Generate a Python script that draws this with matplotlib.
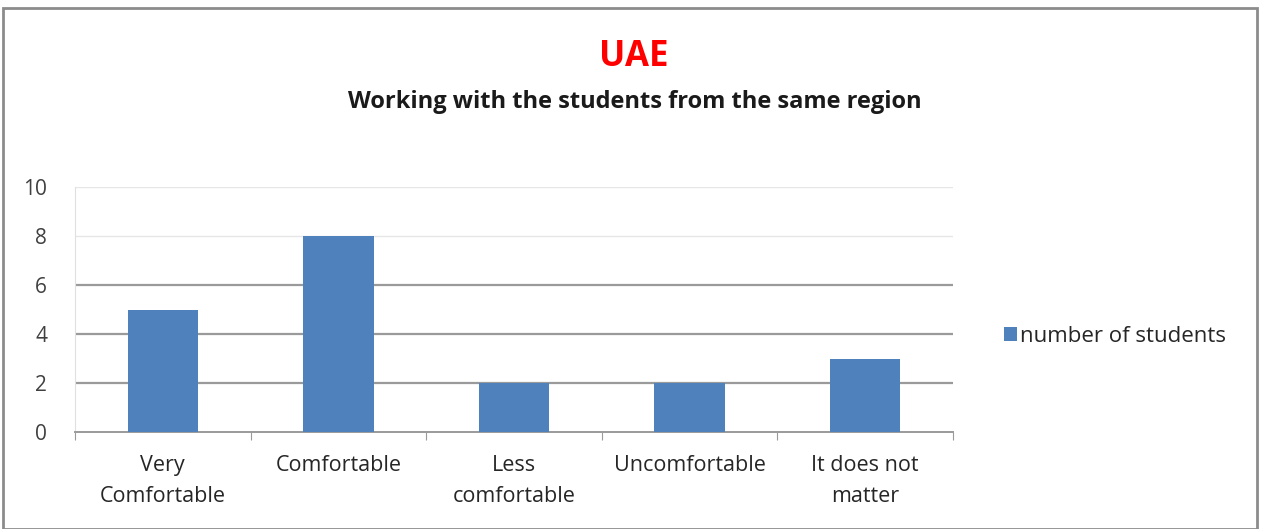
import matplotlib.pyplot as plt
from matplotlib.patches import Rectangle

categories = ["Very\nComfortable", "Comfortable", "Less\ncomfortable", "Uncomfortable", "It does not\nmatter"]
students = [5, 8, 2, 2, 3]
yticks = [0, 2, 4, 6, 8, 10]

plt.rcParams['font.family'] = ['Open Sans', 'DejaVu Sans']

fig = plt.figure(figsize=(12.61, 5.29), dpi=100)
ax = fig.add_axes([75/1261, 1-432/529, (953-75)/1261, (432-187)/529])

# outer chart frame
fig.patches.append(Rectangle((3/1261, 0), 1254/1261, 1-8/529, transform=fig.transFigure,
                             fill=False, edgecolor='#8c8c8c', linewidth=2))

x = list(range(len(categories)))
ax.bar(x, students, width=0.4, color='#4F81BD', label='number of students', zorder=3)

ax.set_xlim(-0.5, len(categories) - 0.5)
ax.set_ylim(0, 10)
ax.set_yticks(yticks)
ax.set_yticklabels([str(v) for v in yticks], fontsize=15, color='#404040')
ax.tick_params(axis='y', length=0, pad=20)

# gridlines (upper two look lighter in the original)
for v in yticks[1:]:
    c = '#e6e6e6' if v >= 8 else '#9a9a9a'
    lw = 1 if v >= 8 else 1.6
    ax.axhline(v, color=c, linewidth=lw, zorder=1)

ax.set_xticks([i - 0.5 for i in range(len(categories) + 1)])
ax.set_xticklabels([])
ax.tick_params(axis='x', length=6, color='#9a9a9a', direction='out')
for i, lab in enumerate(categories):
    ax.text(i, -0.95, lab, ha='center', va='top', fontsize=15.5, color='#262626',
            linespacing=1.6)

for s in ['top', 'right']:
    ax.spines[s].set_visible(False)
ax.spines['left'].set_color('#e0e0e0')
ax.spines['bottom'].set_color('#9a9a9a')
ax.spines['bottom'].set_linewidth(1.4)

fig.text(634/1261, 1-57/529, "UAE", ha='center', va='center', fontsize=25,
         fontweight='bold', color='#ff0000')
fig.text(635/1261, 1-102/529, "Working with the students from the same region", ha='center',
         va='center', fontsize=17, fontweight='bold', color='#1a1a1a')

ax.legend(loc='center left', bbox_to_anchor=(1.035, 0.39), frameon=False, fontsize=16,
          handlelength=0.6, handleheight=0.6, handletextpad=0.15, labelcolor='#262626')

fig.savefig('out.png', dpi=100)
